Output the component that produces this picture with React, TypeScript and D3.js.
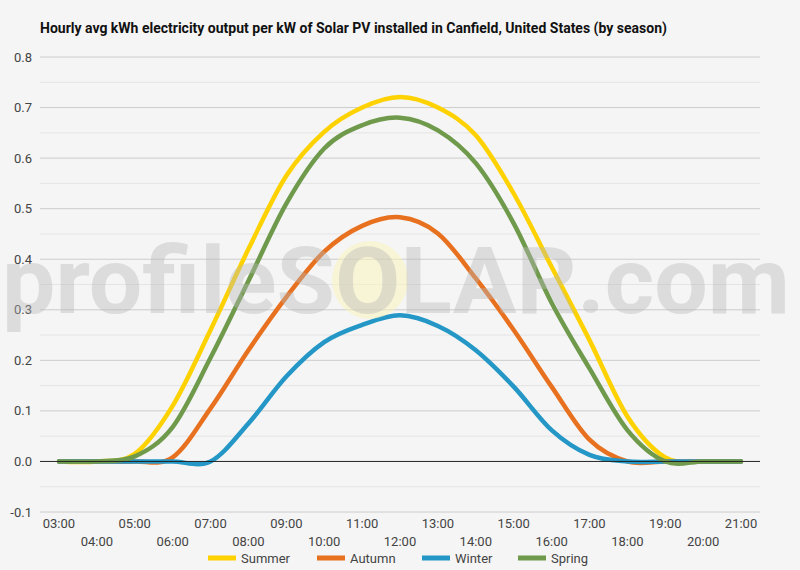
import * as d3 from 'd3';
import { useEffect, useRef } from 'react';

const hours = [
  '03:00', '04:00', '05:00', '06:00', '07:00', '08:00', '09:00', '10:00', '11:00', '12:00',
  '13:00', '14:00', '15:00', '16:00', '17:00', '18:00', '19:00', '20:00', '21:00',
];

const summer = [0, 0, 0.015, 0.11, 0.26, 0.42, 0.565, 0.652, 0.7, 0.721, 0.7, 0.645, 0.53, 0.385, 0.24, 0.089, 0.008, 0, 0];
const autumn = [0, 0, 0, 0.008, 0.105, 0.22, 0.325, 0.415, 0.466, 0.483, 0.451, 0.362, 0.26, 0.148, 0.043, 0, 0, 0, 0];
const winter = [0, 0, 0, 0, 0, 0.075, 0.168, 0.236, 0.27, 0.289, 0.268, 0.22, 0.148, 0.062, 0.013, 0, 0, 0, 0];
const spring = [0, 0, 0.01, 0.068, 0.205, 0.357, 0.51, 0.619, 0.665, 0.68, 0.655, 0.59, 0.471, 0.314, 0.184, 0.062, 0, 0, 0];

const yTicks = [-0.1, 0, 0.1, 0.2, 0.3, 0.4, 0.5, 0.6, 0.7, 0.8];

const series = [
  { name: 'Summer', values: summer, color: '#fdd200' },
  { name: 'Autumn', values: autumn, color: '#e8711f' },
  { name: 'Winter', values: winter, color: '#2497c6' },
  { name: 'Spring', values: spring, color: '#6f9a4c' },
];

const W = 800;
const H = 570;
const margin = { top: 57, right: 40, bottom: 58, left: 40 };
const font = 'Roboto, sans-serif';

export default function App() {
  const svgRef = useRef<SVGSVGElement>(null);

  useEffect(() => {
    const svgEl = svgRef.current;
    if (!svgEl) return;
    const svg = d3.select(svgEl);
    svg.selectAll('*').remove();

    const innerW = W - margin.left - margin.right;
    const innerH = H - margin.top - margin.bottom;

    svg.append('rect').attr('width', W).attr('height', H).attr('fill', '#f5f5f5');

    svg
      .append('text')
      .attr('x', 40)
      .attr('y', 33)
      .attr('font-family', font)
      .attr('font-weight', 'bold')
      .attr('font-size', 14)
      .attr('fill', '#111')
      .text('Hourly avg kWh electricity output per kW of Solar PV installed in Canfield, United States (by season)');

    const g = svg.append('g').attr('transform', `translate(${margin.left},${margin.top})`);

    const x = d3.scalePoint<string>().domain(hours).range([0, innerW]).padding(0.5);
    const y = d3.scaleLinear().domain([-0.1, 0.8]).range([innerH, 0]);

    // minor grid between the labelled lines
    const minor = d3.range(-0.05, 0.8, 0.1);
    g.selectAll('.minor')
      .data(minor)
      .join('line')
      .attr('x1', 0)
      .attr('x2', innerW)
      .attr('y1', (d) => y(d))
      .attr('y2', (d) => y(d))
      .attr('stroke', '#e4e4e4')
      .attr('stroke-width', 1);

    g.selectAll('.major')
      .data(yTicks.filter((d) => d !== 0))
      .join('line')
      .attr('x1', 0)
      .attr('x2', innerW)
      .attr('y1', (d) => y(d))
      .attr('y2', (d) => y(d))
      .attr('stroke', '#cccccc')
      .attr('stroke-width', 1);

    g.selectAll('.ylab')
      .data(yTicks)
      .join('text')
      .attr('x', -8)
      .attr('y', (d) => y(d))
      .attr('dy', '0.35em')
      .attr('text-anchor', 'end')
      .attr('font-family', font)
      .attr('font-size', 13)
      .attr('fill', '#444')
      .text((d) => d.toFixed(1));

    g.selectAll('.xlab')
      .data(hours)
      .join('text')
      .attr('x', (d) => x(d)!)
      .attr('y', (_, i) => (i % 2 === 0 ? innerH + 16 : innerH + 34))
      .attr('text-anchor', 'middle')
      .attr('font-family', font)
      .attr('font-size', 13)
      .attr('fill', '#444')
      .text((d) => d);

    const line = d3
      .line<number>()
      .x((_, i) => x(hours[i])!)
      .y((d) => y(d))
      .curve(d3.curveCardinal.tension(0));

    g.selectAll('.series')
      .data(series)
      .join('path')
      .attr('d', (s) => line(s.values))
      .attr('fill', 'none')
      .attr('stroke', (s) => s.color)
      .attr('stroke-width', 4.5)
      .attr('stroke-linecap', 'round');

    g.append('line')
      .attr('x1', 0)
      .attr('x2', innerW)
      .attr('y1', y(0))
      .attr('y2', y(0))
      .attr('stroke', '#222')
      .attr('stroke-width', 1);

    // watermark, drawn over the plot
    const wm = svg.append('g');
    wm.append('ellipse')
      .attr('cx', 370)
      .attr('cy', 280)
      .attr('rx', 38)
      .attr('ry', 39)
      .attr('fill', '#fbf5b8')
      .attr('opacity', 0.5);
    wm.append('text')
      .attr('x', 2)
      .attr('y', 313)
      .attr('font-family', font)
      .attr('font-weight', 'bold')
      .attr('font-size', 92)
      .attr('textLength', 788)
      .attr('lengthAdjust', 'spacingAndGlyphs')
      .attr('fill', '#b8b8b8')
      .attr('opacity', 0.4)
      .text('profileSOLAR.com');

    // legend
    const legendX = [208, 317, 422, 518];
    const lg = svg.append('g');
    series.forEach((s, i) => {
      lg.append('rect')
        .attr('x', legendX[i])
        .attr('y', 555.5)
        .attr('width', 28)
        .attr('height', 5)
        .attr('fill', s.color);
      lg.append('text')
        .attr('x', legendX[i] + 33)
        .attr('y', 558)
        .attr('dy', '0.35em')
        .attr('font-family', font)
        .attr('font-size', 13)
        .attr('fill', '#444')
        .text(s.name);
    });
  }, []);

  return (
    <svg
      ref={svgRef}
      width={W}
      height={H}
      style={{ display: 'block', position: 'absolute', left: 0, top: 0 }}
    />
  );
}
